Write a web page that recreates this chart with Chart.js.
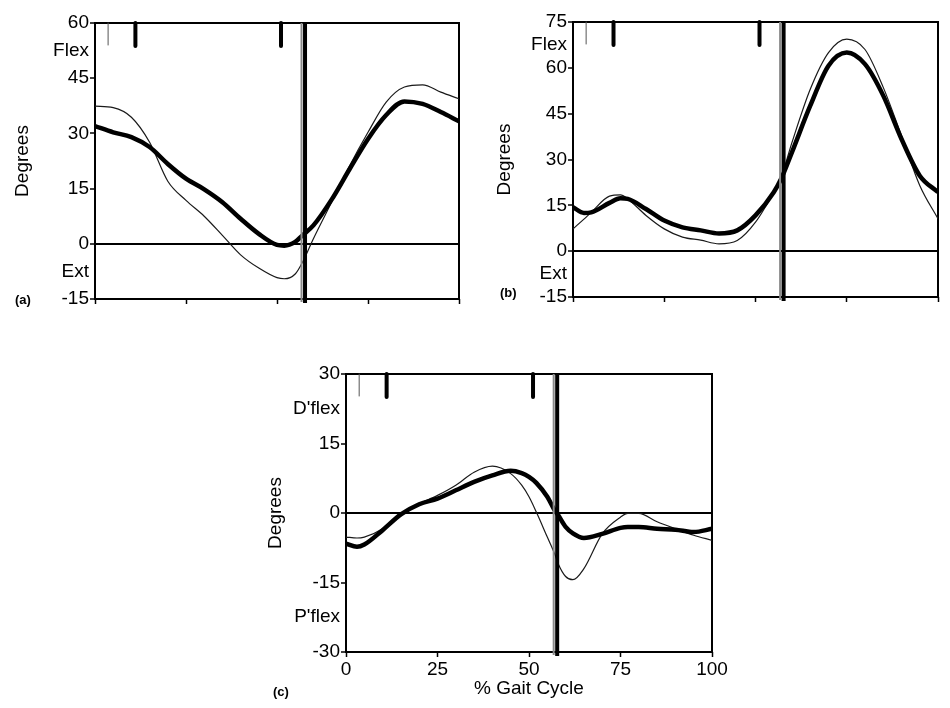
<!DOCTYPE html>
<html>
<head>
<meta charset="utf-8">
<title>Gait kinematics</title>
<script src="https://cdn.jsdelivr.net/npm/chart.js@4/dist/chart.umd.min.js"></script>
<style>
  body { margin: 0; background: #fff; }
  .panel { position: absolute; }
  canvas { display: block; }
</style>
</head>
<body>
<div class="panel" style="left:0;top:0"><canvas id="hipChart" width="470" height="330"></canvas></div>
<div class="panel" style="left:470px;top:0"><canvas id="kneeChart" width="480" height="330"></canvas></div>
<div class="panel" style="left:260px;top:360px"><canvas id="ankleChart" width="480" height="348"></canvas></div>
<script>
'use strict';

const FONT = "'Liberation Sans', Arial, sans-serif";
const INK  = '#000';
const GREY = '#8a8a8a';

/* ─── Data: % gait cycle vs joint angle (degrees) ─── */
const hipPct   = [0, 5, 10, 15, 20, 25, 30, 35, 40, 45, 50, 52, 55, 57, 60, 65, 70, 75, 80, 85, 90, 95, 100];
const hipThick = [32, 30.3, 29, 26.3, 21.7, 17.7, 14.8, 11.3, 6.8, 2.7, -0.3, -0.5, 0.5, 2.3, 5, 12, 20.4, 28.5, 35, 38.7, 38, 35.8, 33.3];
const hipThin  = [37.4, 37, 34.4, 27.6, 17, 11.8, 7.5, 2.3, -3, -6.6, -9.2, -9.5, -8.2, -5, 1.4, 11.3, 21.3, 30.3, 38.5, 42.6, 43.2, 41.2, 39.4];

const kneePct   = [0, 3, 5, 10, 13, 15, 20, 25, 30, 35, 40, 45, 50, 55, 57, 60, 65, 70, 75, 80, 85, 90, 95, 100];
const kneeThick = [14.4, 12.5, 12.7, 15.8, 17.3, 17.1, 13.8, 10, 7.8, 6.8, 5.8, 6.8, 11.7, 19.3, 23.6, 32.4, 47.6, 60.7, 65, 61.2, 50.9, 36.7, 24.7, 19.3];
const kneeThin  = [7.3, 10.5, 12.7, 18, 18.4, 17.1, 11.7, 7.3, 4.6, 3.6, 2.4, 3.5, 9.5, 19.3, 24, 35.6, 53, 65, 69.4, 66, 53.6, 37.8, 21.5, 10.6];

const anklePct   = [0, 3, 5, 10, 15, 20, 25, 30, 35, 40, 45, 48, 50, 52, 55, 57, 58, 60, 62, 65, 70, 75, 77, 80, 85, 90, 95, 100];
const ankleThick = [-6.6, -7.3, -6.8, -3.7, -0.3, 1.9, 3.1, 4.9, 6.7, 8.1, 9.1, 8.6, 7.8, 6.5, 3.5, 0.6, -0.5, -3, -4.4, -5.4, -4.5, -3.2, -3, -3, -3.4, -3.6, -4.1, -3.4];
const ankleThin  = [-5.2, -5.4, -5.2, -3.4, -0.1, 2, 3.8, 6, 8.8, 10.1, 8.5, 6, 3.5, 0.2, -5.2, -8.8, -11, -13.7, -14.4, -12, -4.5, -0.9, -0.1, -0.1, -1.9, -3.4, -4.8, -5.9];

/* axis ranges and labels */
const pctTicks   = [0, 25, 50, 75, 100];
const hipRange   = [-15, 60];
const kneeRange  = [-15, 75];
const ankleRange = [-30, 30];
const flexSense  = ['Flex', 'Ext'];
const ankleSense = ["D'flex", "P'flex"];

/* gait events (% cycle) marked along the top border, and toe-off */
const eventPct  = [3.6, 11.1, 51.1];
const toeOffPct = 57.7;

function pts(xs, ys) {
  return xs.map(function (x, i) { return { x: x, y: ys[i] }; });
}

/* ─── Frame, toe-off line, event marks, side labels ─── */
const gaitDecor = {
  id: 'gaitDecor',
  beforeDatasetsDraw(chart) {
    const { ctx, chartArea: a } = chart;
    ctx.save();
    ctx.strokeStyle = INK;
    ctx.lineWidth = 2;
    ctx.strokeRect(a.left, a.top, a.width, a.height);
    ctx.restore();
  },
  afterDatasetsDraw(chart, args, opts) {
    const { ctx, chartArea: a, scales: { x, y } } = chart;
    ctx.save();

    // toe-off: faint grey trace beside a heavy black rule
    const tx = x.getPixelForValue(toeOffPct);
    ctx.strokeStyle = GREY;
    ctx.lineWidth = 2;
    ctx.beginPath(); ctx.moveTo(tx - 3.5, a.top); ctx.lineTo(tx - 3.5, a.bottom + 3); ctx.stroke();
    ctx.strokeStyle = INK;
    ctx.lineWidth = 4;
    ctx.beginPath(); ctx.moveTo(tx, a.top); ctx.lineTo(tx, a.bottom + 4); ctx.stroke();

    // event ticks hanging from the top border
    ctx.lineCap = 'round';
    eventPct.forEach(function (p, i) {
      const ex = x.getPixelForValue(p);
      ctx.strokeStyle = i === 0 ? '#555' : INK;
      ctx.lineWidth = i === 0 ? 1 : 4;
      ctx.beginPath();
      ctx.moveTo(ex, a.top);
      ctx.lineTo(ex, a.top + (i === 0 ? 22 : 23));
      ctx.stroke();
    });
    ctx.lineCap = 'butt';

    // Flex / Ext style labels between the outer ticks
    ctx.fillStyle = INK;
    ctx.font = '19px ' + FONT;
    ctx.textAlign = 'right';
    ctx.textBaseline = 'middle';
    ctx.fillText(opts.sense[0], a.left - 6, y.getPixelForValue(y.max - 7.5));
    ctx.fillText(opts.sense[1], a.left - 6, y.getPixelForValue(y.min + 7.5));

    // panel letter
    ctx.font = 'bold 13px ' + FONT;
    ctx.textAlign = 'left';
    ctx.fillText(opts.letter, opts.letterX, opts.letterY);
    ctx.restore();
  }
};

function buildPanel(id, cfg) {
  const canvas = document.getElementById(id);
  return new Chart(canvas, {
    type: 'line',
    data: {
      datasets: [{
        data: pts(cfg.pct, cfg.thick),
        borderColor: INK,
        borderWidth: 4.5,
        pointRadius: 0,
        cubicInterpolationMode: 'monotone'
      }, {
        data: pts(cfg.pct, cfg.thin),
        borderColor: '#1a1a1a',
        borderWidth: 1.2,
        pointRadius: 0,
        cubicInterpolationMode: 'monotone'
      }]
    },
    plugins: [gaitDecor],
    options: {
      responsive: false,
      animation: false,
      events: [],
      layout: { padding: cfg.padding },
      plugins: {
        legend: { display: false },
        tooltip: { enabled: false },
        gaitDecor: { sense: cfg.sense, letter: cfg.letter, letterX: cfg.letterX, letterY: cfg.letterY }
      },
      scales: {
        x: {
          type: 'linear',
          min: 0,
          max: 100,
          afterBuildTicks: function (s) { s.ticks = pctTicks.map(function (v) { return { value: v }; }); },
          border: { display: false },
          grid: { drawOnChartArea: false, tickLength: 5, tickColor: INK, tickWidth: 1.5 },
          ticks: { display: cfg.showPct, color: INK, padding: 1, font: { family: FONT, size: 19 } },
          title: {
            display: cfg.showPct,
            text: '% Gait Cycle',
            color: INK,
            font: { family: FONT, size: 19 },
            padding: { top: 0, bottom: 8 }
          },
          afterFit: function (s) { s.height = cfg.xHeight; }
        },
        y: {
          min: cfg.range[0],
          max: cfg.range[1],
          ticks: { stepSize: 15, color: INK, padding: 1, font: { family: FONT, size: 19 } },
          border: { display: false },
          grid: {
            color: function (c) { return c.tick && c.tick.value === 0 ? INK : 'rgba(0,0,0,0)'; },
            lineWidth: 2,
            tickLength: 5,
            tickColor: INK,
            tickWidth: 1.5
          },
          title: {
            display: true,
            text: 'Degrees',
            color: INK,
            font: { family: FONT, size: 19 },
            padding: { top: cfg.titlePad, bottom: 0 }
          },
          afterFit: function (s) { s.width = cfg.yWidth; }
        }
      }
    }
  });
}

document.addEventListener('DOMContentLoaded', function () {
  if (typeof Chart === 'undefined') return;

  buildPanel('hipChart', {
    pct: hipPct, thick: hipThick, thin: hipThin, range: hipRange, sense: flexSense,
    letter: '(a)', letterX: 15, letterY: 300,
    padding: { left: 0, top: 23, right: 11, bottom: 0 },
    yWidth: 95, xHeight: 31, titlePad: 11, showPct: false
  });

  buildPanel('kneeChart', {
    pct: kneePct, thick: kneeThick, thin: kneeThin, range: kneeRange, sense: flexSense,
    letter: '(b)', letterX: 30, letterY: 293,
    padding: { left: 0, top: 22, right: 12, bottom: 0 },
    yWidth: 103, xHeight: 33, titlePad: 23, showPct: false
  });

  buildPanel('ankleChart', {
    pct: anklePct, thick: ankleThick, thin: ankleThin, range: ankleRange, sense: ankleSense,
    letter: '(c)', letterX: 13, letterY: 332,
    padding: { left: 0, top: 14, right: 28, bottom: 0 },
    yWidth: 86, xHeight: 56, titlePad: 4, showPct: true
  });
});
</script>
</body>
</html>
